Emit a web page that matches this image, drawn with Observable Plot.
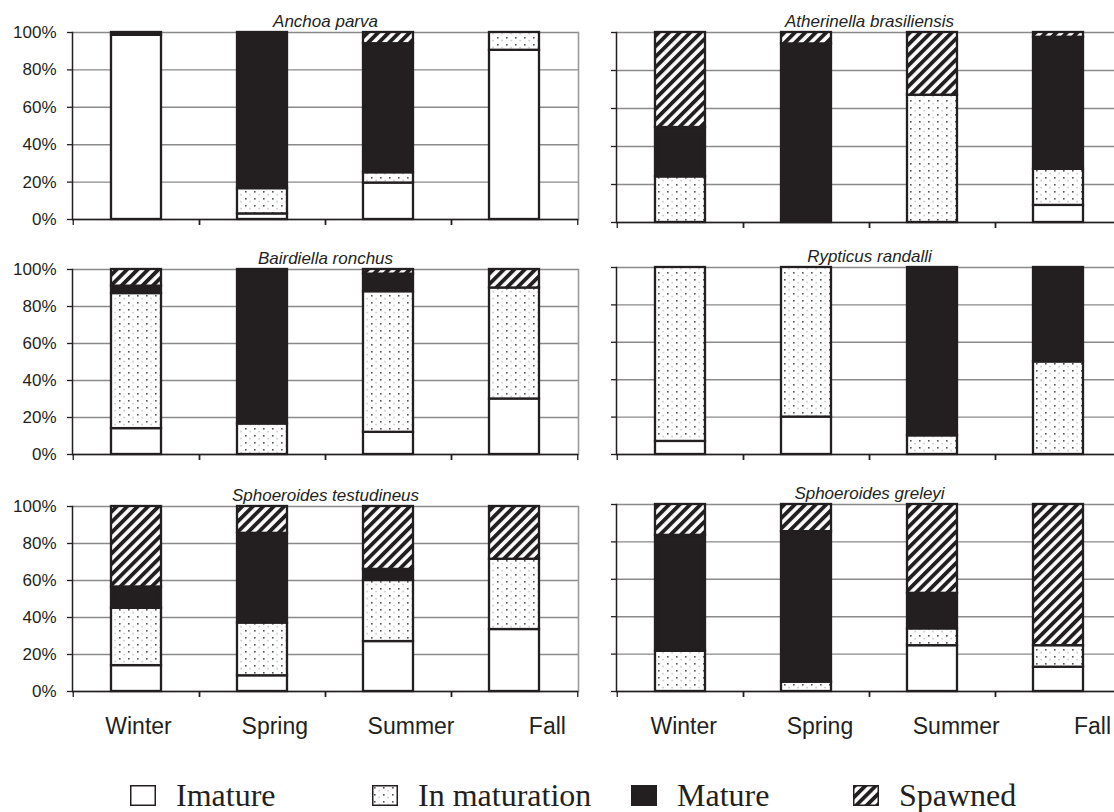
<!DOCTYPE html>
<html>
<head>
<meta charset="utf-8">
<script src="https://cdn.jsdelivr.net/npm/d3@7"></script>
<script src="https://cdn.jsdelivr.net/npm/@observablehq/plot@0.6"></script>
<style>
  html, body { margin: 0; padding: 0; background: #fff; overflow: hidden; }
  #chart { position: relative; width: 1114px; height: 812px; overflow: hidden; background: #fff;
           font-family: "Liberation Sans", Arial, sans-serif; color: #231f20; }
  .panel { position: absolute; }
  .legend-item { position: absolute; display: flex; align-items: center; height: 40px;
                 font-family: "Liberation Serif", "Times New Roman", serif; font-size: 32px; color: #231f20; white-space: nowrap; }
  .legend-item svg { margin-right: 20px; }
</style>
</head>
<body>
<svg width="0" height="0" style="position:absolute">
  <defs>
    <pattern id="dots" patternUnits="userSpaceOnUse" width="9" height="7">
      <rect width="9" height="7" fill="#ffffff"/>
      <rect x="2" y="2" width="1.6" height="1.6" fill="#555555"/>
      <rect x="6.6" y="4.8" width="0.9" height="1.6" fill="#a0a0a0"/>
    </pattern>
    <pattern id="hatch" patternUnits="userSpaceOnUse" width="7.4" height="7.4" patternTransform="rotate(45)">
      <rect width="7.4" height="7.4" fill="#ffffff"/>
      <rect width="3.8" height="7.4" fill="#231f20"/>
    </pattern>
  </defs>
</svg>
<div id="chart"></div>
<script>
// ---- data ----
const seasons = ["Winter", "Spring", "Summer", "Fall"];
const stages = ["Imature", "In maturation", "Mature", "Spawned"];
const yTicks = [0, 20, 40, 60, 80, 100];

// rows = seasons (Winter, Spring, Summer, Fall); columns = stages (Imature, In maturation, Mature, Spawned), in %
const anchoaParva = [[98.5, 0, 1.5, 0], [3, 13.5, 83.5, 0], [19.5, 5.5, 69, 6], [90.5, 9.5, 0, 0]];
const atherinellaBrasiliensis = [[0, 24, 26, 50], [0, 0, 94, 6], [0, 67, 0, 33], [9, 19, 69.5, 2.5]];
const bairdiellaRonchus = [[14, 73, 4, 9], [0, 16.5, 83.5, 0], [12, 76, 9.5, 2.5], [30, 60, 0, 10]];
const rypticusRandalli = [[7, 93, 0, 0], [20, 80, 0, 0], [0, 10, 90, 0], [0, 49.5, 50.5, 0]];
const sphoeroidesTestudineus = [[14, 31, 11.5, 43.5], [8.5, 28.5, 48.5, 14.5], [27, 33, 6, 34], [33.5, 38, 0, 28.5]];
const sphoeroidesGreleyi = [[0, 21.5, 62, 16.5], [0, 5, 80.5, 14.5], [24.5, 9, 19, 47.5], [13, 11.5, 0, 75.5]];

const titles = ["Anchoa parva", "Atherinella brasiliensis", "Bairdiella ronchus",
                "Rypticus randalli", "Sphoeroides testudineus", "Sphoeroides greleyi"];
const panelValues = [anchoaParva, atherinellaBrasiliensis, bairdiellaRonchus,
                     rypticusRandalli, sphoeroidesTestudineus, sphoeroidesGreleyi];

// ---- styles / layout ----
const stageFills = ["#ffffff", "url(#dots)", "#231f20", "url(#hatch)"];
const ink = "#231f20";
const gridColor = "#8a8a8a";
const layout = [
  {left: 0,   plotTop: 32,  plotH: 187, col: 0},
  {left: 584, plotTop: 32,  plotH: 190, col: 1},
  {left: 0,   plotTop: 269, plotH: 185, col: 0},
  {left: 584, plotTop: 267, plotH: 187, col: 1},
  {left: 0,   plotTop: 506, plotH: 185, col: 0},
  {left: 584, plotTop: 504, plotH: 187, col: 1}
];
const plotW = 506;
const marginTop = 32;
const marginBottom = 12;

const chart = document.getElementById("chart");

function makePanel(title, values, L) {
  const data = [];
  seasons.forEach((s, i) => stages.forEach((st, j) => {
    if (values[i][j] > 0) data.push({season: s, stage: st, value: values[i][j]});
  }));
  const mL = L.col === 0 ? 72 : 32;
  const mR = L.col === 0 ? 4 : 0;
  const half = plotW / 4 / 2;
  const marks = [
    Plot.gridY(yTicks, {stroke: gridColor, strokeOpacity: 1, strokeWidth: 1.4}),
  ];
  if (L.col === 0) marks.push(Plot.frame({anchor: "right", stroke: "#9a9a9a", strokeWidth: 1.6}));
  marks.push(
    Plot.barY(data, {x: "season", y: "value", fill: "stage", stroke: ink, strokeWidth: 2.3}),
    Plot.ruleY([0], {stroke: ink, strokeWidth: 1.5}),
    Plot.frame({anchor: "left", stroke: ink, strokeWidth: 1.5}),
    Plot.axisY(yTicks, {tickSize: 5, tickPadding: 11, fontSize: 17, strokeWidth: 1.3, label: null,
                        tickFormat: L.col === 0 ? (d => d + "%") : (() => "")}),
    Plot.axisX(seasons, {tickSize: 6, dx: half, tickFormat: () => "", strokeWidth: 1.3, label: null}),
    Plot.axisX(seasons, {tickSize: 6, dx: -half, tickFormat: () => "", strokeWidth: 1.3, label: null}),
    Plot.text([title], {frameAnchor: "top", lineAnchor: "middle", dy: -11, fontSize: 17, fontStyle: "italic", fill: ink})
  );
  const svg = Plot.plot({
    width: mL + plotW + mR,
    height: marginTop + L.plotH + marginBottom,
    marginLeft: mL, marginRight: mR, marginTop, marginBottom,
    style: {fontFamily: "Liberation Sans, Arial, sans-serif", color: ink, background: "transparent", overflow: "visible"},
    x: {type: "band", domain: seasons, paddingInner: 0.6, paddingOuter: 0.3, label: null},
    y: {domain: [0, 100], label: null},
    color: {domain: stages, range: stageFills},
    marks
  });
  svg.classList.add("panel");
  svg.style.left = L.left + "px";
  svg.style.top = (L.plotTop - marginTop) + "px";
  chart.appendChild(svg);
}

titles.forEach((t, k) => makePanel(t, panelValues[k], layout[k]));

// ---- season labels row (shared under both columns) ----
const labelRow = [...seasons, ...seasons];
const labelsSvg = Plot.plot({
  width: 1114, height: 40, margin: 0,
  style: {fontFamily: "Liberation Sans, Arial, sans-serif", color: ink, background: "transparent"},
  x: {domain: [0, labelRow.length - 1], range: [138, 1092], axis: null},
  y: {axis: null},
  marks: [Plot.text(labelRow, {x: (d, i) => i, text: d => d, frameAnchor: "middle", fontSize: 23, fill: ink})]
});
labelsSvg.classList.add("panel");
labelsSvg.style.left = "0px";
labelsSvg.style.top = "706px";
chart.appendChild(labelsSvg);

// ---- legend ----
const legendLeft = [130, 372, 631, 853];
stages.forEach((st, i) => {
  const item = document.createElement("div");
  item.className = "legend-item";
  item.style.left = legendLeft[i] + "px";
  item.style.top = "775px";
  item.innerHTML = `<svg width="26" height="21"><rect x="0.75" y="0.75" width="24.5" height="19.5" fill="${stageFills[i]}" stroke="${ink}" stroke-width="1.5"/></svg><span>${st}</span>`;
  chart.appendChild(item);
});
</script>
</body>
</html>
